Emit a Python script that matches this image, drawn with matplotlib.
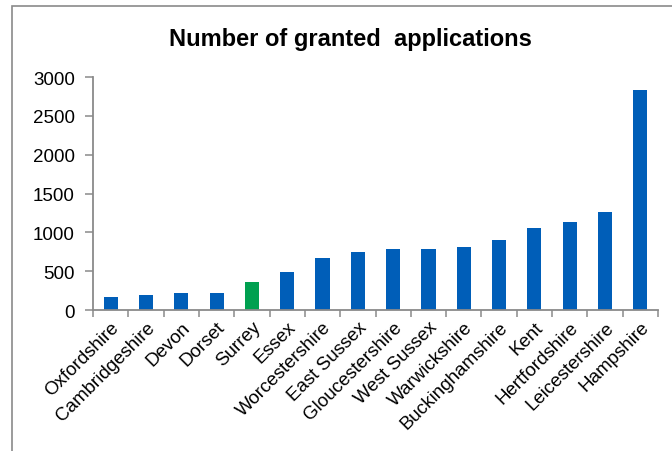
import numpy as np
import matplotlib
matplotlib.use("Agg")
import matplotlib.pyplot as plt
from matplotlib.patches import Rectangle

plt.rcParams['font.family'] = ['Liberation Sans', 'DejaVu Sans']

# data
counties = ['Oxfordshire', 'Cambridgeshire', 'Devon', 'Dorset', 'Surrey', 'Essex',
            'Worcestershire', 'East Sussex', 'Gloucestershire', 'West Sussex',
            'Warwickshire', 'Buckinghamshire', 'Kent', 'Hertfordshire',
            'Leicestershire', 'Hampshire']
granted = [173, 194, 215, 215, 361, 490, 671, 745, 784, 784, 810, 900, 1055,
           1128, 1261, 2836]
highlight = 'Surrey'

blue = '#005EB8'
green = '#00A050'
grey = '#8A8A8A'

fig = plt.figure(figsize=(6.72, 4.52), dpi=100)
W, H = 672, 452

# outer frame of the chart object (runs off right/bottom edges)
fig.patches.append(Rectangle((12 / W, -0.1), 1.2, 1 - 7 / H + 0.1,
                             transform=fig.transFigure, fill=False,
                             edgecolor=grey, linewidth=1.2))

ax = fig.add_axes([93 / W, 1 - 311 / H, (658 - 93) / W, (311 - 78) / H])

x = np.arange(len(counties))
colors = [green if c == highlight else blue for c in counties]
ax.bar(x, granted, width=0.4, color=colors)

ax.set_xlim(-0.5, len(counties) - 0.5)
ax.set_ylim(0, 3000)
ax.set_yticks(np.arange(0, 3001, 500))

ax.set_xticks(x)
ax.set_xticklabels(counties, rotation=45, ha='right', rotation_mode='anchor',
                   fontsize=13.5)
ax.set_xticks(np.arange(-0.5, len(counties)), minor=True)
ax.tick_params(axis='x', which='major', length=0, pad=6)
ax.tick_params(axis='x', which='minor', length=5, width=1.1, color=grey,
               direction='out')
ax.tick_params(axis='y', length=6, width=1.1, color=grey, labelsize=13.5, pad=7)

for s in ['top', 'right']:
    ax.spines[s].set_visible(False)
for s in ['left', 'bottom']:
    ax.spines[s].set_color(grey)
    ax.spines[s].set_linewidth(1.3)

fig.text(350 / W, 1 - 46 / H, 'Number of granted  applications',
         ha='center', va='baseline', fontsize=17, fontweight='bold')

fig.savefig('out.png', dpi=100)
